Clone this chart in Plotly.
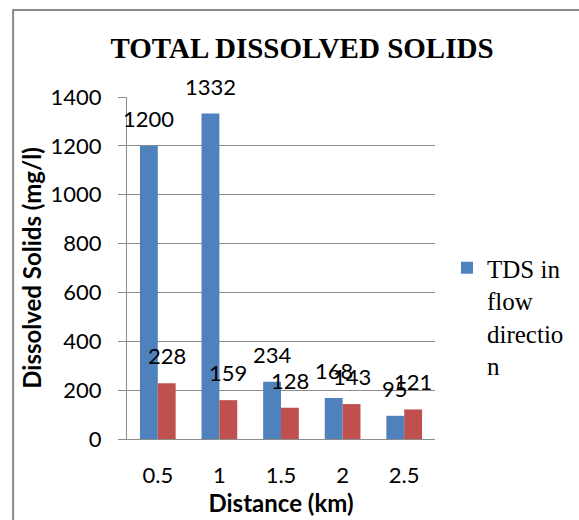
import plotly.graph_objects as go

# Distance along the flow path (km) and TDS readings (mg/l)
distance_km = [0.5, 1, 1.5, 2, 2.5]
tds_flow = [1200, 1332, 234, 168, 95]
tds_second = [228, 159, 128, 143, 121]
y_ticks = [0, 200, 400, 600, 800, 1000, 1200, 1400]

W, H = 579, 520
M_L, M_R, M_T, M_B = 127, 141, 97, 81
BAR_W = 0.145

BLUE = "#4F81BD"
RED = "#C0504D"
GRID = "#8C8C8C"
SANS = "Lato, 'Open Sans', sans-serif"
SERIF = "'Liberation Serif', 'Times New Roman', serif"

fig = go.Figure()
fig.add_trace(go.Bar(
    x=distance_km, y=tds_flow, width=BAR_W, offset=-BAR_W,
    marker=dict(color=BLUE, line=dict(width=0)),
    name="TDS in<br>flow<br>directio<br>n", showlegend=True,
))
fig.add_trace(go.Bar(
    x=distance_km, y=tds_second, width=BAR_W, offset=0,
    marker=dict(color=RED, line=dict(width=0)),
    name="", showlegend=False,
))

# value labels above each bar
annotations = []
for d, v in zip(distance_km, tds_flow):
    annotations.append(dict(x=d - BAR_W / 2, y=v, xref="x", yref="y", text=str(v),
                            showarrow=False, yanchor="bottom", yshift=12,
                            font=dict(family=SANS, size=22, color="black")))
for d, v in zip(distance_km, tds_second):
    annotations.append(dict(x=d + BAR_W / 2, y=v, xref="x", yref="y", text=str(v),
                            showarrow=False, yanchor="bottom", yshift=12,
                            font=dict(family=SANS, size=22, color="black")))

plot_w = W - M_L - M_R
plot_h = H - M_T - M_B


def px_x(p):
    return (p - M_L) / plot_w


def px_y(p):
    return (H - M_B - p) / plot_h


# chart frame
shapes = [dict(type="rect", xref="paper", yref="paper",
               x0=px_x(12), x1=px_x(W + 10), y0=px_y(H + 10), y1=px_y(10),
               line=dict(color="#8A8A8A", width=2), fillcolor="rgba(0,0,0,0)")]

fig.update_layout(
    width=W, height=H,
    margin=dict(l=M_L, r=M_R, t=M_T, b=M_B),
    paper_bgcolor="white", plot_bgcolor="white",
    barmode="overlay",
    title=dict(text="<b>TOTAL DISSOLVED SOLIDS</b>", xref="container", yref="container",
               x=302 / W, xanchor="center", y=1 - 48 / H, yanchor="middle",
               font=dict(family=SERIF, size=29, color="black")),
    xaxis=dict(range=[0.25, 2.75], tickvals=distance_km,
               ticktext=[str(d) for d in distance_km],
               showgrid=False, zeroline=False, showline=True, linecolor=GRID, linewidth=1,
               ticks="", ticklabelstandoff=17,
               tickfont=dict(family=SANS, size=22, color="black"),
               title=dict(text="<b>Distance (km)</b>", standoff=3,
                          font=dict(family=SANS, size=24, color="black"))),
    yaxis=dict(range=[0, 1400], tickvals=y_ticks,
               showgrid=True, gridcolor=GRID, gridwidth=1, zeroline=False,
               showline=True, linecolor=GRID, linewidth=1,
               ticks="outside", ticklen=8, tickcolor=GRID, ticklabelstandoff=12,
               tickfont=dict(family=SANS, size=22, color="black"),
               title=dict(text="<b>Dissolved Solids (mg/l)</b>", standoff=2,
                          font=dict(family=SANS, size=24, color="black"))),
    legend=dict(xref="container", yref="container", x=447 / W, y=1 - 245 / H,
                xanchor="left", yanchor="top", valign="top",
                font=dict(family=SERIF, size=25, color="black"),
                bgcolor="rgba(0,0,0,0)", itemwidth=30),
    annotations=annotations,
    shapes=shapes,
)

fig.write_html("out.html")
